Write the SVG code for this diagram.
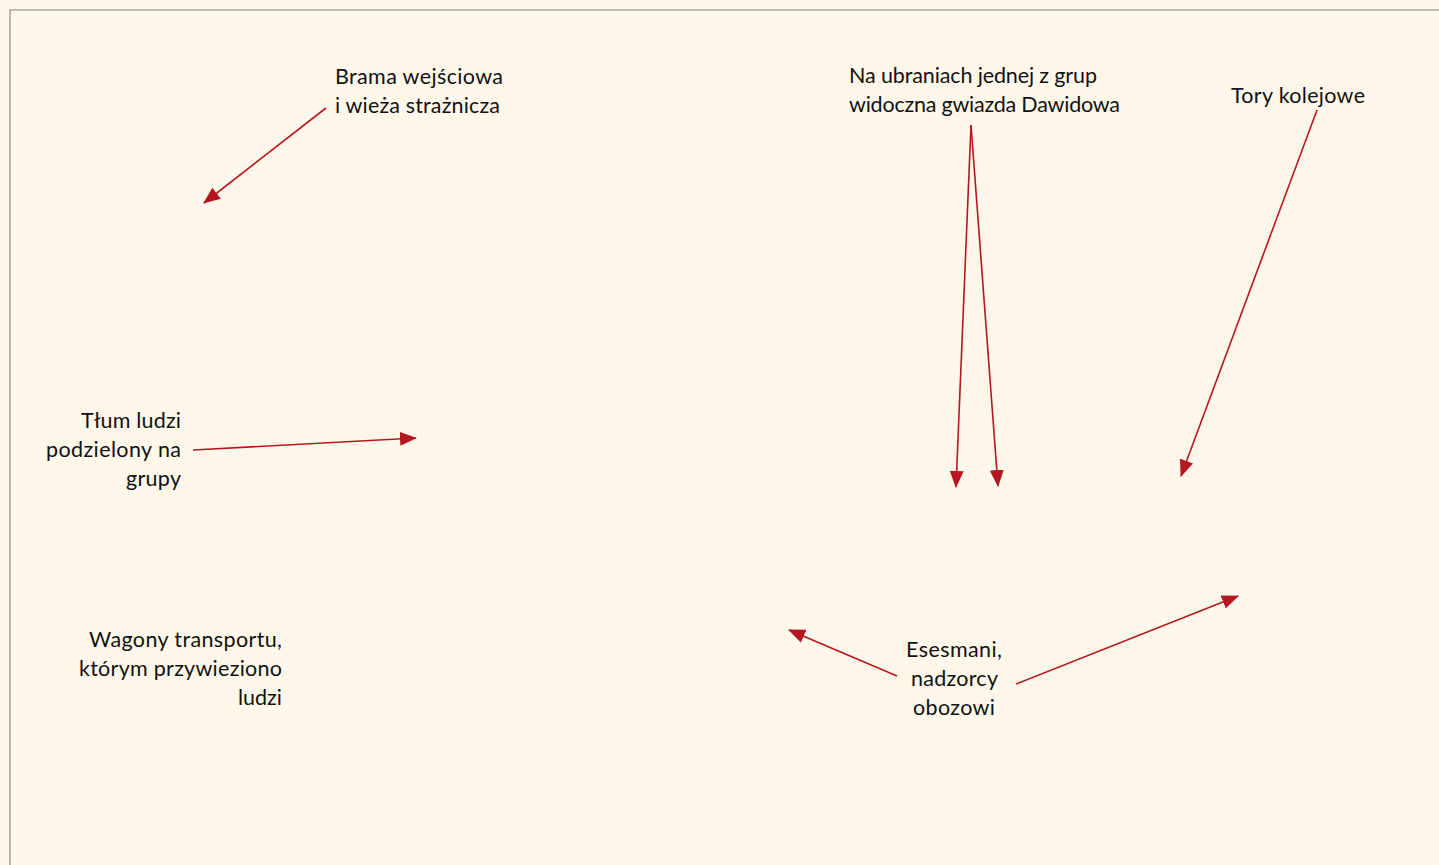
<svg xmlns="http://www.w3.org/2000/svg" width="1439" height="865" viewBox="0 0 1439 865">
<style>
.lbl{font-family:Lato,"Open Sans","Liberation Sans",sans-serif;font-size:21.5px;fill:#111}
.con{stroke:#b5161f;stroke-width:1.6;fill:none;marker-end:url(#ah)}
</style>
<defs>
<marker id="ah" markerUnits="userSpaceOnUse" markerWidth="18" markerHeight="14" refX="16" refY="7" orient="auto">
<path d="M0,0 L17,7 L0,14 Z" fill="#b5161f"/>
</marker>
</defs>
<rect x="0" y="0" width="1439" height="865" fill="#fff8ea"/>
<path d="M10,866 V10 H1440" fill="none" stroke="#aaa69d" stroke-width="1.6"/>
<g id="connectors">
<line class="con" x1="326" y1="108" x2="204" y2="203"/>
<line class="con" x1="193" y1="450" x2="416" y2="438"/>
<line class="con" x1="971" y1="125" x2="956" y2="487"/>
<line class="con" x1="971" y1="125" x2="998" y2="486"/>
<line class="con" x1="1317" y1="110" x2="1181" y2="476"/>
<line class="con" x1="897" y1="676" x2="789" y2="630"/>
<line class="con" x1="1016" y1="684" x2="1238" y2="596"/>
</g>
<g id="brama"><text class="lbl" x="335" y="84" textLength="168">Brama wejściowa</text><text class="lbl" x="335" y="113" textLength="165">i wieża strażnicza</text></g>
<g id="tlum"><text class="lbl" x="81" y="428" textLength="100">Tłum ludzi</text><text class="lbl" x="46" y="457" textLength="135">podzielony na</text><text class="lbl" x="126" y="486" textLength="55">grupy</text></g>
<g id="gwiazda"><text class="lbl" x="849" y="83" textLength="248">Na ubraniach jednej z grup</text><text class="lbl" x="849" y="112" textLength="271">widoczna gwiazda Dawidowa</text></g>
<g id="tory"><text class="lbl" x="1231" y="103" textLength="134">Tory kolejowe</text></g>
<g id="wagony"><text class="lbl" x="89" y="647" textLength="193">Wagony transportu,</text><text class="lbl" x="79" y="676" textLength="203">którym przywieziono</text><text class="lbl" x="238" y="705" textLength="44">ludzi</text></g>
<g id="esesmani"><text class="lbl" x="906" y="657" textLength="96">Esesmani,</text><text class="lbl" x="911" y="686" textLength="87">nadzorcy</text><text class="lbl" x="913" y="715" textLength="82">obozowi</text></g>
</svg>
